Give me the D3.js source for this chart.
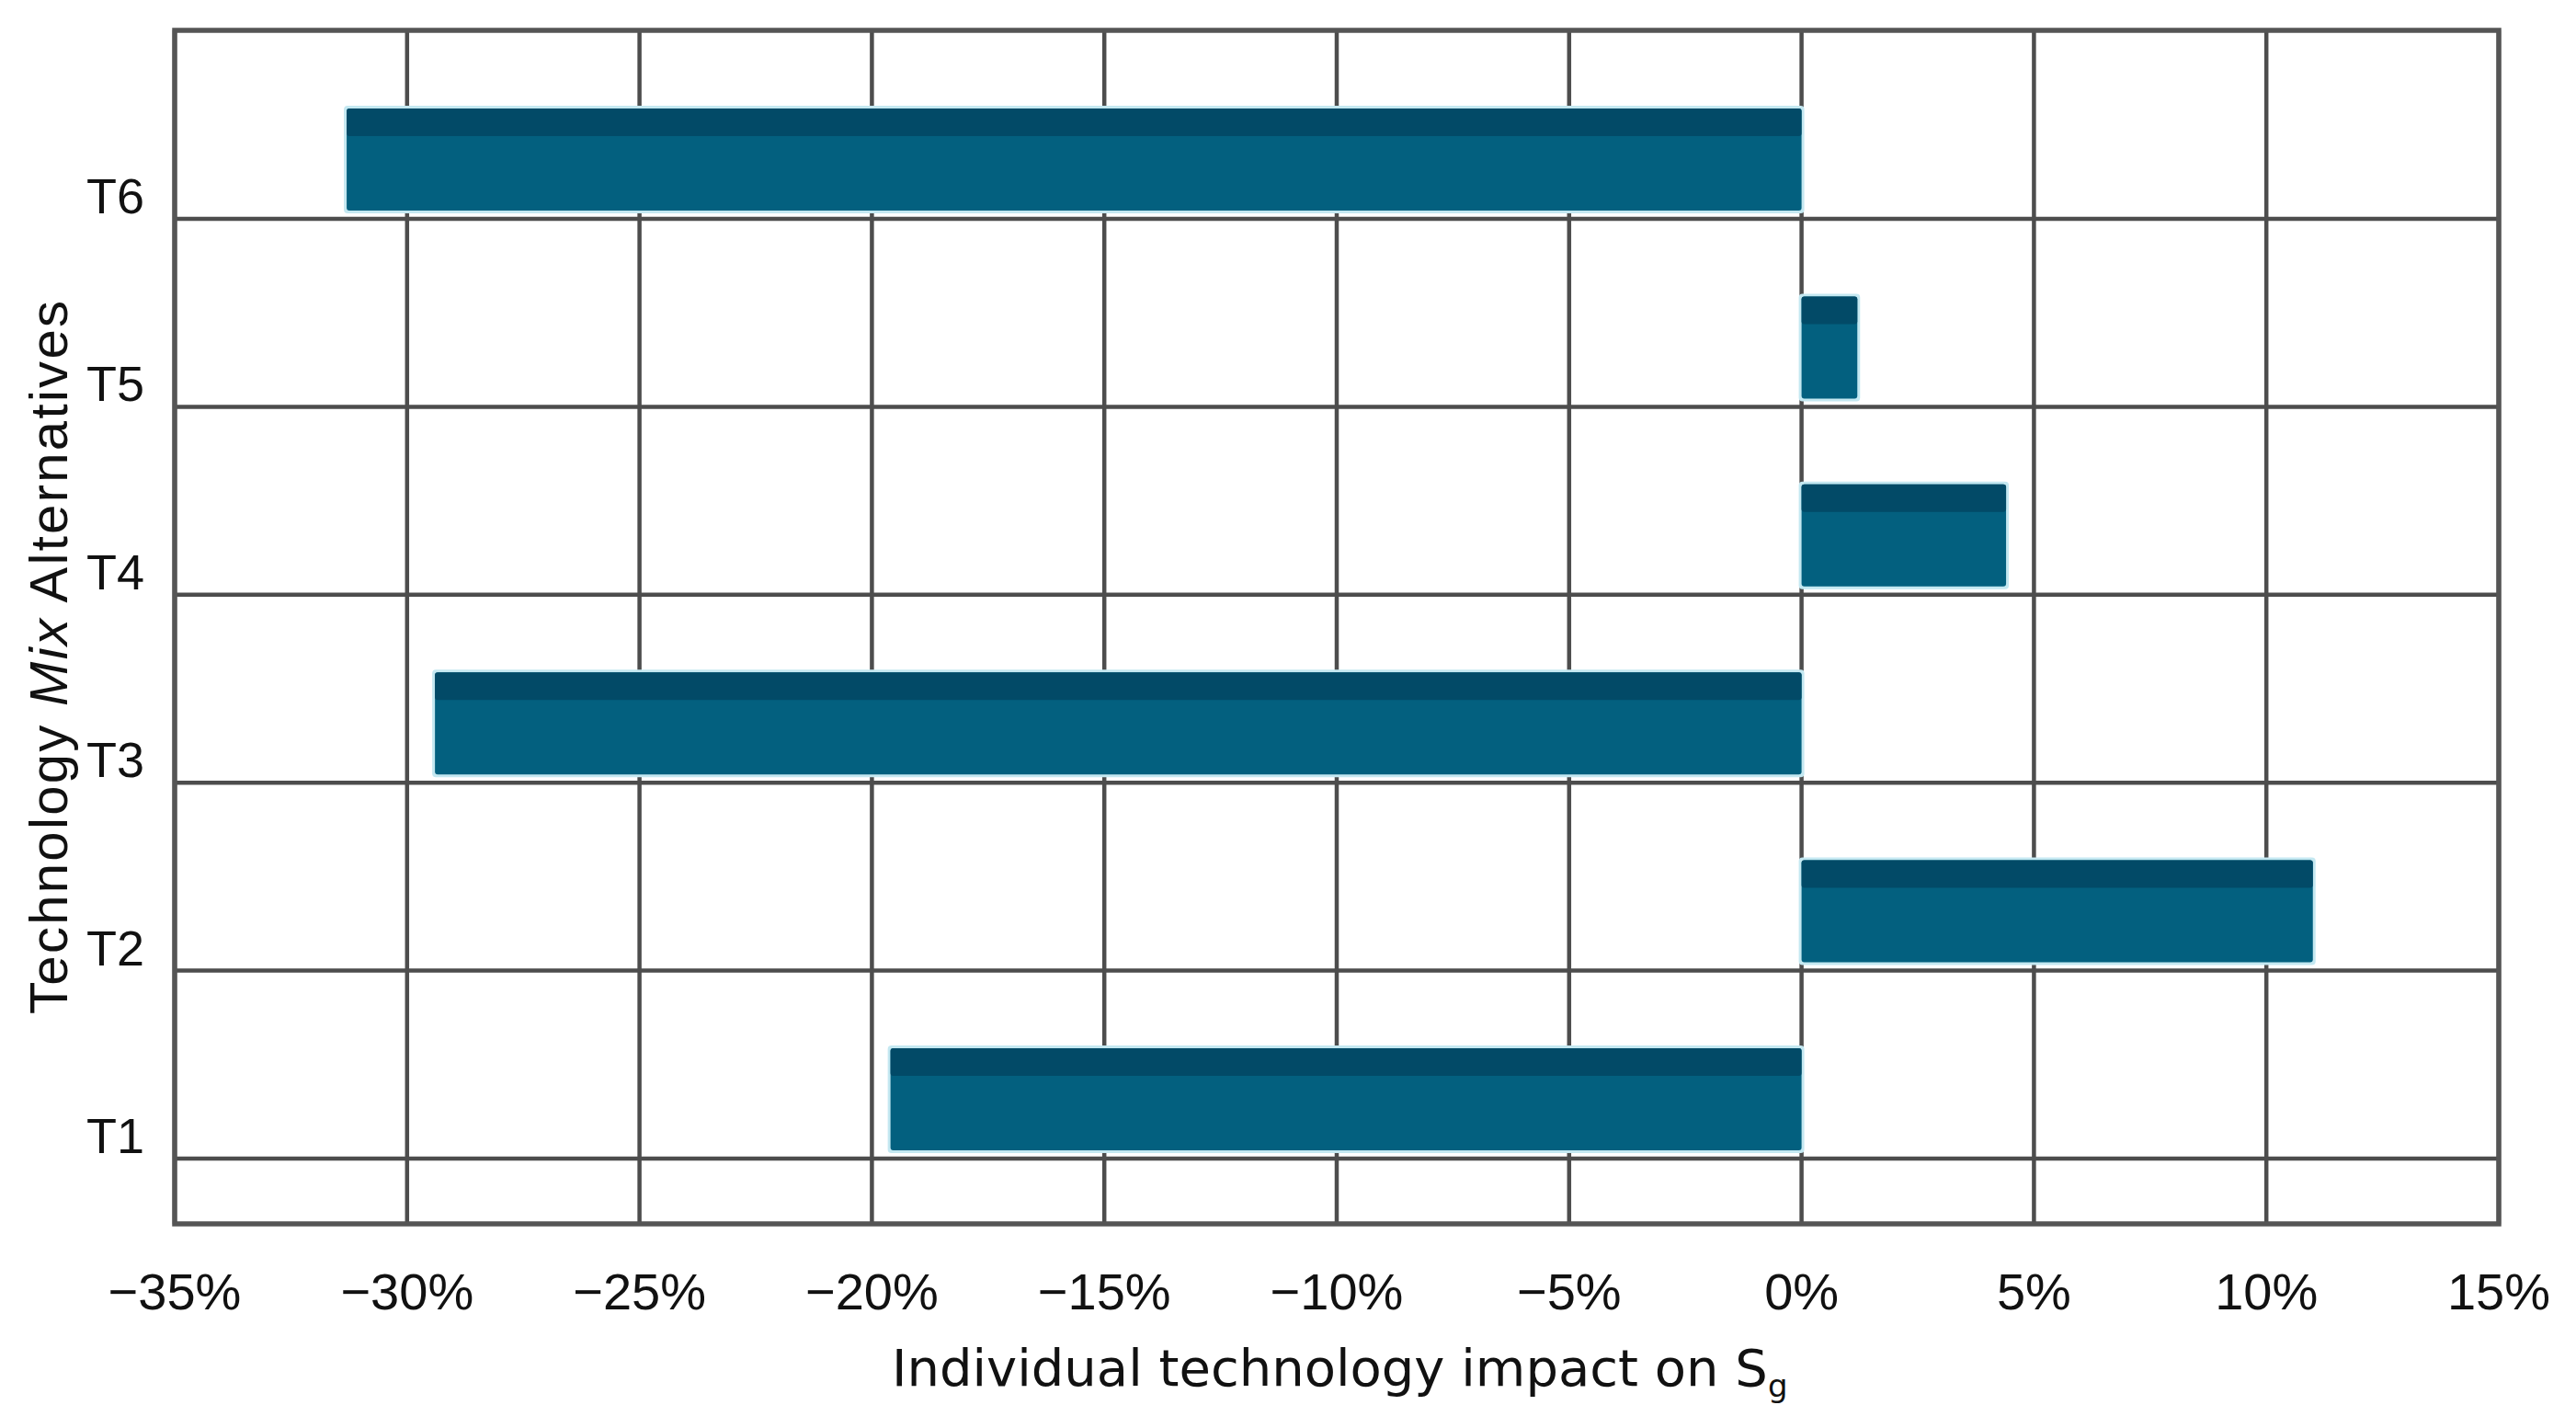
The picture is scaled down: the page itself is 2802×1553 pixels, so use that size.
<!DOCTYPE html>
<html>
<head>
<meta charset="utf-8">
<script src="https://cdn.jsdelivr.net/npm/d3@7"></script>
<style>
  html, body { margin: 0; padding: 0; background: #fff; }
  svg { display: block; }
</style>
</head>
<body>
<svg id="chart" width="2802" height="1553"></svg>
<script>
// ---- data ----
const categories = ["T6", "T5", "T4", "T3", "T2", "T1"];
const values = [-31.3, 1.2, 4.4, -29.4, 11.0, -19.6];
const xTicks = [-35, -30, -25, -20, -15, -10, -5, 0, 5, 10, 15];
const xTitle = "Individual technology impact on ";
const yTitle = ["Technology ", "Mix", " Alternatives"];

// ---- layout ----
const W = 2802, H = 1553;
const plotL = 190, plotR = 2718, plotT = 33, plotB = 1331;

const svg = d3.select("#chart");
svg.append("rect").attr("width", W).attr("height", H).attr("fill", "#fff");

const x = d3.scaleLinear().domain([-35, 15]).range([plotL, plotR]);
const y = d3.scalePoint().domain(categories).range([238, 1260]);

const gridColor = "#4d4d4d";
const grid = svg.append("g");

// vertical grid lines
grid.selectAll("line.vg").data(xTicks).enter().append("line")
  .attr("class", "vg")
  .attr("x1", d => x(d)).attr("x2", d => x(d))
  .attr("y1", plotT).attr("y2", plotB)
  .attr("stroke", gridColor).attr("stroke-width", 4.5);

// horizontal grid lines at category ticks
grid.selectAll("line.hg").data(categories).enter().append("line")
  .attr("class", "hg")
  .attr("x1", plotL).attr("x2", plotR)
  .attr("y1", d => y(d)).attr("y2", d => y(d))
  .attr("stroke", gridColor).attr("stroke-width", 4.5);

// bars
const barH = 111, gap = 9, band = 30;
const data = categories.map((c, i) => ({ c, v: values[i] }));
const bars = svg.append("g").selectAll("g").data(data).enter().append("g");
bars.append("rect") // halo
  .attr("x", d => Math.min(x(0), x(d.v)) - 3)
  .attr("y", d => y(d.c) - gap - barH - 3)
  .attr("width", d => Math.abs(x(d.v) - x(0)) + 6)
  .attr("height", barH + 6)
  .attr("rx", 4)
  .attr("fill", "#c4e8f1");
bars.append("rect")
  .attr("x", d => Math.min(x(0), x(d.v)))
  .attr("y", d => y(d.c) - gap - barH)
  .attr("width", d => Math.abs(x(d.v) - x(0)))
  .attr("height", barH)
  .attr("rx", 3)
  .attr("fill", "#03607f");
bars.append("rect")
  .attr("x", d => Math.min(x(0), x(d.v)))
  .attr("y", d => y(d.c) - gap - barH)
  .attr("width", d => Math.abs(x(d.v) - x(0)))
  .attr("height", band)
  .attr("rx", 3)
  .attr("fill", "#024a67");

// frame
svg.append("rect")
  .attr("x", plotL).attr("y", plotT)
  .attr("width", plotR - plotL).attr("height", plotB - plotT)
  .attr("fill", "none").attr("stroke", "#555").attr("stroke-width", 5.5);

// x tick labels
svg.append("g").selectAll("text").data(xTicks).enter().append("text")
  .attr("x", d => x(d)).attr("y", 1424)
  .attr("text-anchor", "middle")
  .attr("font-family", "'Liberation Sans', Arial, sans-serif")
  .attr("font-size", 56).attr("fill", "#111")
  .text(d => (d < 0 ? "\u2212" + Math.abs(d) : d) + "%");

// y tick labels
svg.append("g").selectAll("text").data(categories).enter().append("text")
  .attr("x", 157).attr("y", d => y(d) - 6)
  .attr("text-anchor", "end")
  .attr("font-family", "'Liberation Sans', Arial, sans-serif")
  .attr("font-size", 54).attr("fill", "#111")
  .text(d => d);

// x title (single text element with subscript)
const xt = svg.append("text")
  .attr("x", 970).attr("y", 1507)
  .attr("font-family", "'DejaVu Sans', sans-serif")
  .attr("font-size", 56).attr("fill", "#111");
xt.append("tspan").text(xTitle);
xt.append("tspan").text("S");
xt.append("tspan").attr("dy", 12).attr("font-size", 34).text("g");

// y title
const yt = svg.append("text")
  .attr("transform", "translate(73,715) rotate(-90)")
  .attr("text-anchor", "middle")
  .attr("font-family", "'Liberation Sans', Arial, sans-serif")
  .attr("font-size", 58).attr("fill", "#111")
  .attr("textLength", 776).attr("lengthAdjust", "spacing");
yt.append("tspan").text(yTitle[0]);
yt.append("tspan").attr("font-style", "italic").text(yTitle[1]);
yt.append("tspan").text(yTitle[2]);
</script>
</body>
</html>
